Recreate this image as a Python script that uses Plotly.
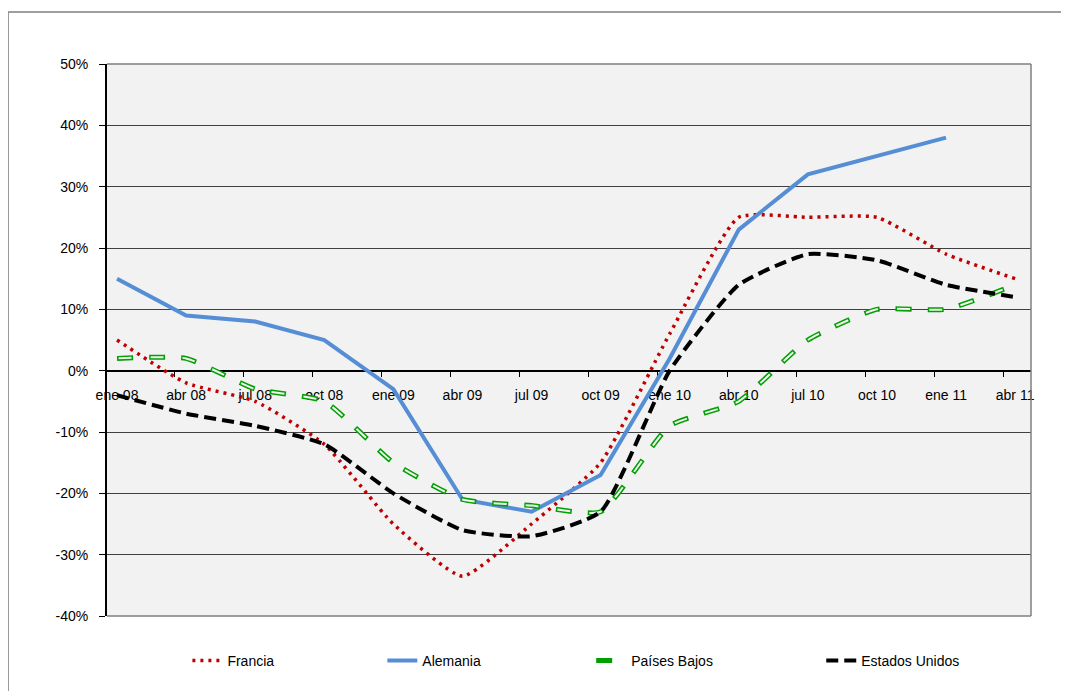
import plotly.graph_objects as go

meses = ["ene 08", "abr 08", "jul 08", "oct 08", "ene 09", "abr 09", "jul 09",
         "oct 09", "ene 10", "abr 10", "jul 10", "oct 10", "ene 11", "abr 11"]
francia = [5, -2, -5, -12, -25, -33.5, -25, -15, 6, 25, 25, 25, 19, 15]
alemania = [15, 9, 8, 5, -3, -21, -23, -17, 2, 23, 32, 35, 38, None]
paises_bajos = [2, 2, -3, -5, -15, -21, -22, -23, -9, -5, 5, 10, 10, 14]
estados_unidos = [-4, -7, -9, -12, -20, -26, -27, -23, 0, 14, 19, 18, 14, 12]
y_ticks = [-40, -30, -20, -10, 0, 10, 20, 30, 40, 50]

FONT = "Liberation Sans, Arial, sans-serif"
x = list(range(len(meses)))

fig = go.Figure()

fig.add_trace(go.Scatter(
    x=x, y=francia, name="Francia", mode="lines", legend="legend",
    line=dict(color="#C00000", width=3.5, dash="3px,5px", shape="spline", smoothing=0.5),
))
fig.add_trace(go.Scatter(
    x=x, y=alemania, name="Alemania", mode="lines", legend="legend2",
    line=dict(color="#558ED5", width=4),
))
# hollow green dashes: thick green dash + thinner light dash on top
fig.add_trace(go.Scatter(
    x=x, y=paises_bajos, name="Países Bajos", mode="lines", legend="legend3",
    legendgroup="pb",
    line=dict(color="#00A000", width=5, dash="16px,16px", shape="spline", smoothing=0.5),
))
fig.add_trace(go.Scatter(
    x=x, y=paises_bajos, name="Países Bajos", mode="lines", legend="legend3",
    legendgroup="pb", showlegend=False, hoverinfo="skip",
    line=dict(color="#F2F2F2", width=2, dash="0px,1.5px,13px,17.5px",
              shape="spline", smoothing=0.5),
))
fig.add_trace(go.Scatter(
    x=x, y=estados_unidos, name="Estados Unidos", mode="lines", legend="legend4",
    line=dict(color="#000000", width=4, dash="12px,6px", shape="spline", smoothing=0.5),
))

zero_pos = (0 - y_ticks[0]) / (y_ticks[-1] - y_ticks[0])

fig.update_xaxes(
    range=[-0.145, 13.23],
    tickmode="array", tickvals=x, ticktext=meses,
    ticks="outside", ticklen=12, tickcolor="rgba(0,0,0,0)",
    minor=dict(tickmode="array", tickvals=[i + 0.83 for i in x[:-1]],
               ticks="outside", ticklen=5, tickcolor="#000000", tickwidth=1),
    anchor="free", position=zero_pos,
    showline=True, linecolor="#000000", linewidth=2,
    showgrid=False, zeroline=False, layer="below traces",
    tickfont=dict(family=FONT, size=14, color="#000000"),
)
fig.update_yaxes(
    range=[y_ticks[0], y_ticks[-1]],
    tickmode="array", tickvals=y_ticks, ticktext=[f"{v}%" for v in y_ticks],
    ticks="outside", ticklen=6, tickcolor="#000000",
    ticklabelstandoff=8,
    showline=True, linecolor="#000000", linewidth=2,
    showgrid=True, gridcolor="#404040", gridwidth=1,
    zeroline=False,
    tickfont=dict(family=FONT, size=14, color="#000000"),
)

leg = dict(orientation="h", y=-0.0815, yanchor="middle", xanchor="left",
           bgcolor="rgba(0,0,0,0)", font=dict(family=FONT, size=14, color="#000000"))

# the page body has an 8px margin, so the figure is 8px smaller
fig.update_layout(
    width=1061, height=683,
    margin=dict(l=99, r=38, t=56, b=75),
    paper_bgcolor="#FFFFFF",
    plot_bgcolor="#F2F2F2",
    showlegend=True,
    legend=dict(leg, x=0.087),
    legend2=dict(leg, x=0.298),
    legend3=dict(leg, x=0.524),
    legend4=dict(leg, x=0.773),
    shapes=[
        # plot area border (top, right, bottom)
        dict(type="line", xref="paper", yref="paper", x0=0, x1=1, y0=1, y1=1,
             line=dict(color="#7F7F7F", width=1.5)),
        dict(type="line", xref="paper", yref="paper", x0=1, x1=1, y0=0, y1=1,
             line=dict(color="#7F7F7F", width=1.5)),
        dict(type="line", xref="paper", yref="paper", x0=0, x1=1, y0=0, y1=0,
             line=dict(color="#7F7F7F", width=1.5)),
        # outer chart frame
        dict(type="line", xref="paper", yref="paper", x0=-0.1071, x1=1.1, y0=1.0942, y1=1.0942,
             line=dict(color="#7F7F7F", width=1.5)),
        dict(type="line", xref="paper", yref="paper", x0=-0.1071, x1=-0.1071, y0=-0.2, y1=1.0942,
             line=dict(color="#7F7F7F", width=1.5)),
    ],
)

fig.write_html("out.html")
